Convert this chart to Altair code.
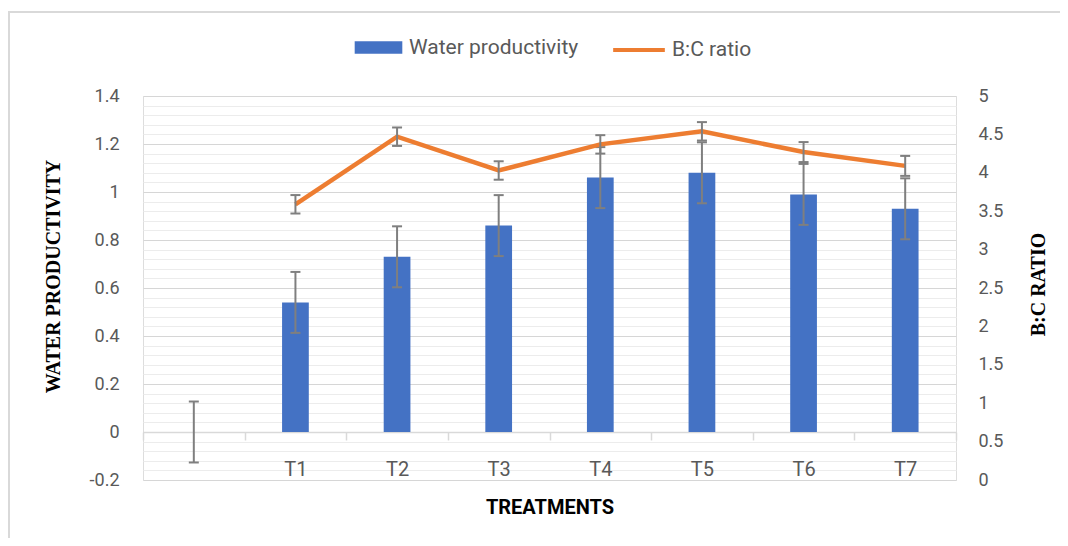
import altair as alt
import pandas as pd

categories = ["", "T1", "T2", "T3", "T4", "T5", "T6", "T7"]
water_productivity = [0.0, 0.54, 0.73, 0.86, 1.06, 1.08, 0.99, 0.93]
wp_error = [0.127, 0.127, 0.127, 0.127, 0.127, 0.127, 0.127, 0.127]
bc_ratio = [None, 3.59, 4.47, 4.03, 4.37, 4.54, 4.27, 4.09]
bc_error = [None, 0.12, 0.12, 0.12, 0.12, 0.12, 0.13, 0.13]

wp_df = pd.DataFrame({
    "cat": categories,
    "wp": water_productivity,
    "lo": [v - e for v, e in zip(water_productivity, wp_error)],
    "hi": [v + e for v, e in zip(water_productivity, wp_error)],
    "series": "Water productivity",
})
bc_df = pd.DataFrame({
    "cat": categories[1:],
    "bc": bc_ratio[1:],
    "lo": [v - e for v, e in zip(bc_ratio[1:], bc_error[1:])],
    "hi": [v + e for v, e in zip(bc_ratio[1:], bc_error[1:])],
    "series": "B:C ratio",
})

SANS = "Roboto"
LABEL_GRAY = "#595959"
ERR_GRAY = "#7f7f7f"

left_ticks = [round(-0.2 + 0.04 * i, 2) for i in range(41)]
right_ticks = [round(0.5 * i, 1) for i in range(11)]

x_scale = alt.Scale(domain=categories, paddingInner=0, paddingOuter=0)
x_axis = alt.Axis(
    title="TREATMENTS", orient="bottom", offset=-48,
    domainColor="#d9d9d9", domainWidth=1.5,
    ticks=True, tickColor="#d9d9d9", tickSize=8, tickWidth=1.5, tickBand="extent",
    labelFont=SANS, labelFontSize=20, labelColor=LABEL_GRAY, labelPadding=19,
    labelAngle=0,
    titleFont=SANS, titleFontSize=20, titleFontWeight="bold", titleColor="black",
    titleBaseline="alphabetic", titleY=81,
    grid=False,
)
X = alt.X("cat:N", sort=categories, scale=x_scale, axis=x_axis)

y_left_scale = alt.Scale(domain=[-0.2, 1.4], nice=False, zero=False)
MAJOR = "abs(datum.value*5 - round(datum.value*5)) < 0.001"
y_left_axis = alt.Axis(
    title="WATER PRODUCTIVITY", orient="left", values=left_ticks,
    labelExpr=MAJOR + " ? toString(round(datum.value*10)/10) : ''",
    labelOverlap=False, labelBound=False,
    labelFont=SANS, labelFontSize=18, labelColor=LABEL_GRAY, labelPadding=24,
    ticks=False, domain=False,
    grid=True, gridWidth=1,
    gridColor={"condition": {"test": MAJOR, "value": "#d6d6d6"}, "value": "#ececec"},
    titleFont="Liberation Serif", titleFontSize=20, titleFontWeight="bold", titleColor="black",
    titleAngle=270, titleBaseline="middle", titleX=-90, titleY=180,
)

y_right_scale = alt.Scale(domain=[0, 5], nice=False, zero=False)
y_right_axis = alt.Axis(
    title="B:C RATIO", orient="right", values=right_ticks,
    labelExpr="toString(datum.value)", labelOverlap=False, labelBound=False,
    labelFont=SANS, labelFontSize=18, labelColor=LABEL_GRAY, labelPadding=22,
    ticks=False, domain=False, grid=False,
    titleFont="Liberation Serif", titleFontSize=20, titleFontWeight="bold", titleColor="black",
    titleAngle=270, titleBaseline="middle", titleX=82, titleY=188,
)

border = alt.Chart(pd.DataFrame({"a": [0]})).mark_rect(
    filled=False, stroke="#d9d9d9", strokeWidth=2
).encode(
    x=alt.value(-134), x2=alt.value(1000), y=alt.value(-84), y2=alt.value(600)
)

bars = alt.Chart(wp_df).mark_bar(width=alt.RelativeBandSize(0.263)).encode(
    x=X,
    y=alt.Y("wp:Q", scale=y_left_scale, axis=y_left_axis),
    fill=alt.Fill(
        "series:N", title=None,
        scale=alt.Scale(domain=["Water productivity"], range=["#4472C4"]),
        legend=alt.Legend(
            orient="none", legendX=222, legendY=-62, padding=0,
            symbolType="M-1.8,-0.47H1.8V0.47H-1.8Z", symbolSize=700,
            symbolStrokeWidth=0, symbolOpacity=1, labelLimit=400,
            labelFont=SANS, labelFontSize=21, labelColor=LABEL_GRAY, labelOffset=17,
        ),
    ),
)


def err_layers(df, scale, axis):
    rule = alt.Chart(df).mark_rule(color=ERR_GRAY, strokeWidth=2).encode(
        x=X, y=alt.Y("lo:Q", scale=scale, axis=axis), y2="hi:Q"
    )
    cap_lo = alt.Chart(df).mark_tick(color=ERR_GRAY, size=10, thickness=2, opacity=1).encode(
        x=X, y=alt.Y("lo:Q", scale=scale, axis=axis)
    )
    cap_hi = alt.Chart(df).mark_tick(color=ERR_GRAY, size=10, thickness=2, opacity=1).encode(
        x=X, y=alt.Y("hi:Q", scale=scale, axis=axis)
    )
    return [rule, cap_lo, cap_hi]


line = alt.Chart(bc_df).mark_line(strokeWidth=4.5).encode(
    x=X,
    y=alt.Y("bc:Q", scale=y_right_scale, axis=y_right_axis),
    stroke=alt.Stroke(
        "series:N", title=None,
        scale=alt.Scale(domain=["B:C ratio"], range=["#ED7D31"]),
        legend=alt.Legend(
            orient="none", legendX=468, legendY=-74, padding=0,
            symbolType="stroke", symbolSize=2670, symbolStrokeWidth=4, labelLimit=400,
            labelFont=SANS, labelFontSize=21, labelColor=LABEL_GRAY, labelOffset=5,
        ),
    ),
)

left = alt.layer(bars, *err_layers(wp_df, y_left_scale, y_left_axis))
right = alt.layer(line, *err_layers(bc_df, y_right_scale, y_right_axis))

chart = alt.layer(left, right, border).resolve_scale(
    y="independent", fill="independent", stroke="independent"
).properties(
    width=813, height=384,
    padding={"left": 135, "top": 88, "right": 104, "bottom": 58},
    autosize=alt.AutoSizeParams(type="none"),
).configure_view(stroke="transparent", strokeWidth=0).configure(background="white")

chart.save("out.html", embed_options={"renderer": "svg", "actions": False})
